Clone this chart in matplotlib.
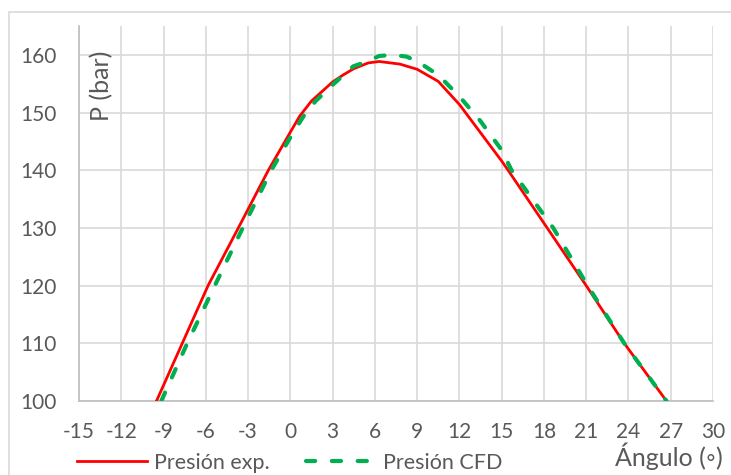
import matplotlib.pyplot as plt
from matplotlib.patches import Rectangle

# Presión medida vs. simulada frente al ángulo de cigüeñal
ang_exp = [-9.5, -7.67, -5.84, -3.69, -1.56, 0, 0.67, 1.5, 3, 3.74, 4.5, 5.53, 6.3, 7.77, 9, 10.5, 12, 13.5, 15, 15.4, 18.23, 21.0, 23.7, 26.7]
p_exp = [100, 110, 120, 130, 140, 146.6, 149.4, 152.0, 155.3, 156.5, 157.6, 158.6, 158.85, 158.4, 157.5, 155.4, 151.4, 146.5, 141.6, 140.2, 130, 120, 110, 100]

ang_cfd = [-9.16, -7.32, -5.36, -3.38, -1.35, 0, 1.1, 1.8, 3, 4.46, 5.4, 6.3, 7.2, 8.24, 9, 10.5, 12, 13.5, 15, 15.7, 18.66, 21.1, 23.7, 26.7]
p_cfd = [100, 110, 120, 130, 140, 145.7, 150, 152.0, 154.8, 158, 158.8, 159.8, 160.0, 159.7, 158.9, 156.5, 152.8, 148.5, 143.5, 140, 130, 120, 110, 100]

x_ticks = list(range(-15, 31, 3))
y_ticks = list(range(100, 161, 10))

txt = "#595959"
grid = "#D9D9D9"
plt.rcParams['font.family'] = ['Lato', 'DejaVu Sans']
plt.rcParams['axes.unicode_minus'] = False

fig = plt.figure(figsize=(7.31, 4.75), dpi=100)
fig.patches.append(Rectangle((9 / 731, -0.1), 1.0, 1 - 12 / 475 + 0.1, transform=fig.transFigure,
                             fill=False, edgecolor=grid, linewidth=1.2))
ax = fig.add_axes([79 / 731, 1 - 401 / 475, (713 - 79) / 731, (401 - 26) / 475])

ax.plot(ang_exp, p_exp, color="#FF0000", lw=2.0, label="Presión exp.", zorder=3)
ax.plot(ang_cfd, p_cfd, color="#00B050", lw=3.0, ls=(0, (2.2, 4.0)), dash_capstyle="round",
        label="Presión CFD", zorder=4)

ax.set_xlim(-15, 30)
ax.set_ylim(100, 165)
ax.set_xticks(x_ticks)
ax.set_yticks(y_ticks)
ax.grid(True, color=grid, lw=1.2)
ax.set_axisbelow(True)
for s in ["top", "right"]:
    ax.spines[s].set_visible(False)
for s in ["left", "bottom"]:
    ax.spines[s].set_color("#BFBFBF")
    ax.spines[s].set_linewidth(1.2)
ax.tick_params(length=0, labelsize=15, labelcolor=txt)
ax.tick_params(axis="x", pad=15)
ax.tick_params(axis="y", pad=16)

ax.text(0.035, 0.84, "P (bar)", transform=ax.transAxes, rotation=90,
        ha="center", va="center", fontsize=18, color=txt)
fig.text(723 / 731, 1 - 456 / 475, "Ángulo (◦)", ha="right", va="center", fontsize=18, color=txt)

fig.legend(loc="center left", bbox_to_anchor=(77 / 731, 1 - 463 / 475), ncol=2, frameon=False,
           fontsize=15.5, labelcolor=txt, handlelength=3.25, handletextpad=0.33,
           columnspacing=1.7, borderaxespad=0, borderpad=0)

fig.savefig("out.png", dpi=100)
